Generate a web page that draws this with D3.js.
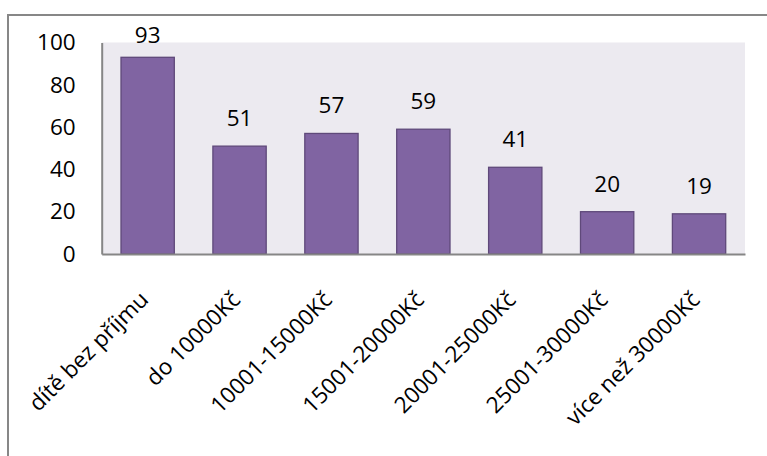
<!DOCTYPE html>
<html><head><meta charset="utf-8">
<script src="https://cdn.jsdelivr.net/npm/d3@7"></script>
<style>body{margin:0;background:#fff}svg{display:block}text{font-family:"Open Sans",sans-serif;fill:#000}</style>
</head><body><svg id="c" width="767" height="456"></svg>
<script>
const categories = ["dítě bez příjmu","do 10000Kč","10001-15000Kč","15001-20000Kč","20001-25000Kč","25001-30000Kč","více než 30000Kč"];
const values = [93,51,57,59,41,20,19];
const yTicks = [0,20,40,60,80,100];

const FONT = '"Open Sans"';
const FS = "22.5px";
const svg = d3.select("#c");
const m = {l:101.7, r:745, t:42.5, b:254};
svg.append("path").attr("d","M8,456V15H767").attr("fill","none").attr("stroke","#878787").attr("stroke-width",2);
const x = d3.scaleBand().domain(categories).range([m.l,m.r]).paddingInner(0.42).paddingOuter(0.21);
const y = d3.scaleLinear().domain([0,100]).range([m.b,m.t]);
svg.append("rect").attr("x",m.l).attr("y",m.t).attr("width",m.r-m.l).attr("height",m.b-m.t).attr("fill","#ECEAF0");
svg.selectAll(".bar").data(values).join("rect")
  .attr("x",(d,i)=>x(categories[i])).attr("width",x.bandwidth())
  .attr("y",d=>y(d)).attr("height",d=>y(0)-y(d))
  .attr("fill","#8064A2").attr("stroke","#5F497A").attr("stroke-width",1.3);
const ya = d3.axisLeft(y).tickValues(yTicks).tickSize(0).tickPadding(26);
const gy = svg.append("g").attr("transform",`translate(${m.l},0)`).call(ya);
gy.select(".domain").attr("stroke","#868686").attr("stroke-width",2);
gy.selectAll("text").style("font-size",FS).style("font-family",FONT);
const xa = d3.axisBottom(x).tickSize(0).tickFormat(d=>d);
const gx = svg.append("g").attr("transform",`translate(0,${m.b})`).call(xa);
gx.select(".domain").attr("stroke","#868686").attr("stroke-width",2);
gx.selectAll("text").style("font-size",FS).style("font-family",FONT)
  .attr("text-anchor","end").attr("dy",null).attr("y",null)
  .attr("transform","translate(2,47) rotate(-45)");
svg.selectAll(".lbl").data(values).join("text")
  .attr("x",(d,i)=>x(categories[i])+x.bandwidth()/2)
  .attr("y",d=>Math.max(y(d)-20,43))
  .attr("text-anchor","middle").style("font-size",FS).style("font-family",FONT).text(d=>d);
</script></body></html>
